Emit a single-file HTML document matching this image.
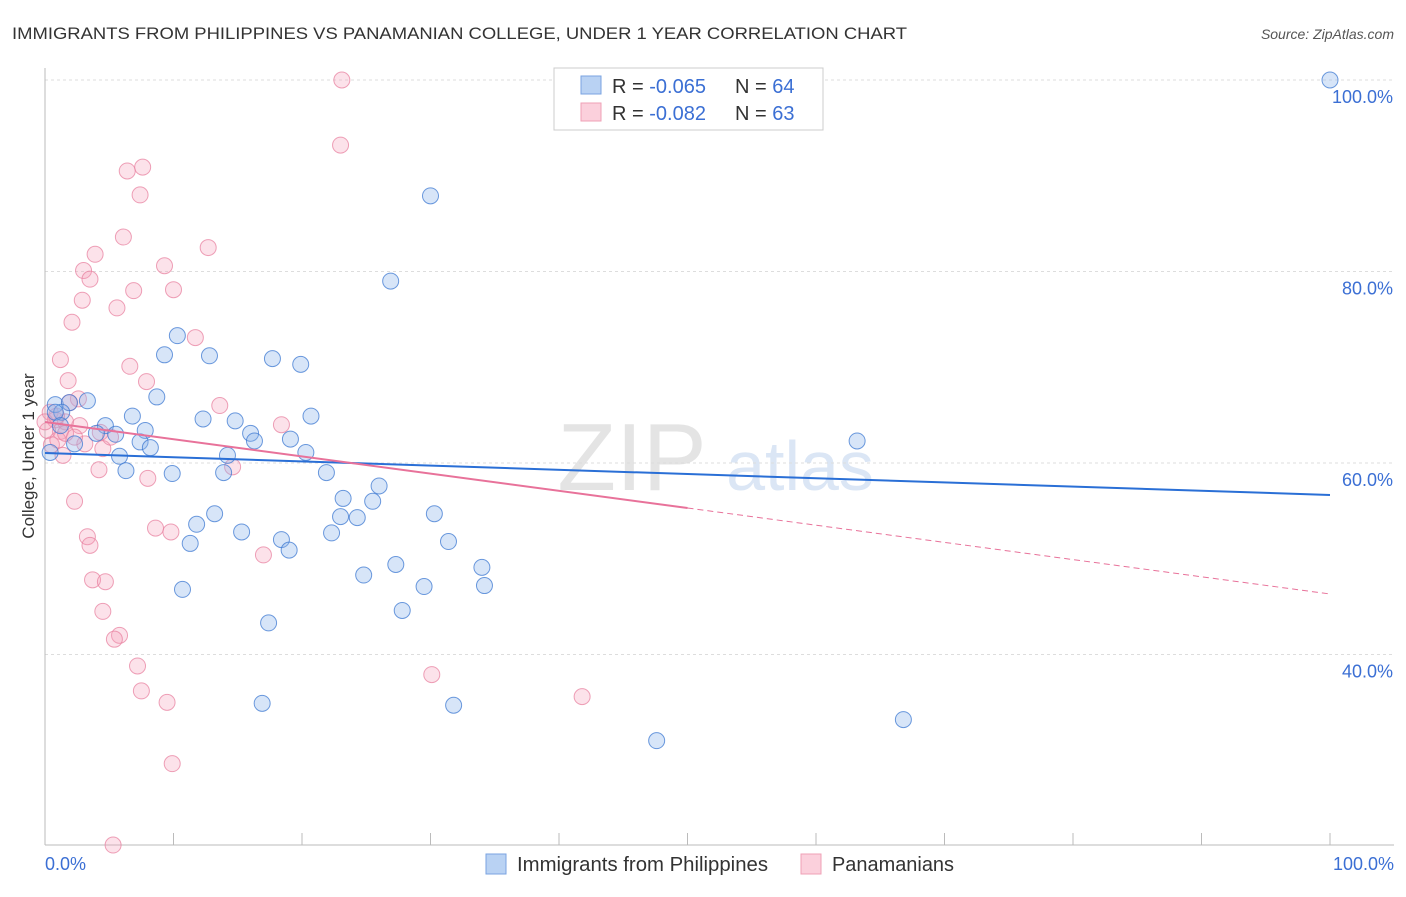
<!DOCTYPE html>
<html><head><meta charset="utf-8"><style>
body{margin:0;background:#fff;font-family:"Liberation Sans",sans-serif;}
svg text{font-family:"Liberation Sans",sans-serif;}
</style></head><body>
<svg id="chart" width="1406" height="892" viewBox="0 0 1406 892">
<text x="12" y="39" font-size="17" fill="#333" textLength="895" lengthAdjust="spacingAndGlyphs">IMMIGRANTS FROM PHILIPPINES VS PANAMANIAN COLLEGE, UNDER 1 YEAR CORRELATION CHART</text>
<text x="1394" y="39" font-size="14" fill="#555" font-style="italic" text-anchor="end">Source: ZipAtlas.com</text>
<text x="632" y="490" font-size="96" fill="#e4e4e4" font-family="Liberation Serif" text-anchor="middle">ZIP</text>
<text x="800" y="490" font-size="70" fill="#dbe6f5" text-anchor="middle">atlas</text>
<g id="grid"></g><g id="axes"></g><g id="marks"></g><g id="trends"></g>
<text transform="translate(34,456) rotate(-90)" font-size="17" fill="#333" text-anchor="middle">College, Under 1 year</text>
<text x="45" y="870" font-size="18" fill="#3b6fd4">0.0%</text>
<text x="1394" y="870" font-size="18" fill="#3b6fd4" text-anchor="end">100.0%</text>
<g>
<rect x="554" y="68" width="269" height="62" fill="#fff" stroke="#ccc"/>
<rect x="581" y="76" width="20" height="18" fill="#b9d2f3" stroke="#7aa3e0"/>
<rect x="581" y="103" width="20" height="18" fill="#fbd0dc" stroke="#efa0b6"/>
<text x="612" y="93" font-size="20" fill="#333">R = <tspan fill="#3b6fd4">-0.065</tspan></text>
<text x="735" y="93" font-size="20" fill="#333">N = <tspan fill="#3b6fd4">64</tspan></text>
<text x="612" y="120" font-size="20" fill="#333">R = <tspan fill="#3b6fd4">-0.082</tspan></text>
<text x="735" y="120" font-size="20" fill="#333">N = <tspan fill="#3b6fd4">63</tspan></text>
</g>
<g>
<rect x="486" y="854" width="20" height="20" fill="#b9d2f3" stroke="#7aa3e0"/>
<text x="517" y="871" font-size="20" fill="#333" textLength="251" lengthAdjust="spacingAndGlyphs">Immigrants from Philippines</text>
<rect x="801" y="854" width="20" height="20" fill="#fbd0dc" stroke="#efa0b6"/>
<text x="832" y="871" font-size="20" fill="#333" textLength="122" lengthAdjust="spacingAndGlyphs">Panamanians</text>
</g>
</svg>
<script>
const yTicks=[40,60,80,100];
const yTickLabels=["40.0%","60.0%","80.0%","100.0%"];
const xTicks=[0,10,20,30,40,50,60,70,80,90,100];
const blueX=[100,30,26.9,10.3,9.3,12.8,17.7,19.9,8.7,3.3,0.8,1.9,1.3,6.8,12.3,14.8,20.7,4.7,4.0,7.8,5.5,16.0,16.3,19.1,7.4,2.3,8.2,14.2,20.3,0.4,5.8,6.3,9.9,13.9,21.9,63.2,26.0,23.2,25.5,13.2,30.3,11.8,23.0,24.3,11.3,15.3,18.4,19.0,22.3,31.4,27.3,34.0,24.8,29.5,34.2,10.7,17.4,27.8,16.9,31.8,66.8,47.6,0.8,1.2];
const blueY=[100,87.9,79.0,73.3,71.3,71.2,70.9,70.3,66.9,66.5,66.1,66.3,65.3,64.9,64.6,64.4,64.9,63.9,63.1,63.4,63.0,63.1,62.3,62.5,62.2,62.0,61.6,60.8,61.1,61.1,60.7,59.2,58.9,59.0,59.0,62.3,57.6,56.3,56.0,54.7,54.7,53.6,54.4,54.3,51.6,52.8,52.0,50.9,52.7,51.8,49.4,49.1,48.3,47.1,47.2,46.8,43.3,44.6,34.9,34.7,33.2,31.0,65.3,63.9];
const pinkX=[23.1,23.0,7.6,6.4,7.4,6.1,3.9,12.7,9.3,3.0,3.5,6.9,10.0,2.9,5.6,2.1,11.7,1.2,6.6,7.9,1.8,2.6,1.9,13.6,18.4,0.4,0.8,1.6,1.2,4.3,4.5,3.1,1.4,0.2,14.6,8.0,4.2,2.3,8.6,9.8,3.3,3.5,17.0,3.7,4.7,4.5,5.8,5.4,7.2,7.5,9.5,30.1,41.8,9.9,5.3,0.5,1.0,2.7,5.1,0,0.9,1.6,2.3];
const pinkY=[100,93.2,90.9,90.5,88.0,83.6,81.8,82.5,80.6,80.1,79.2,78.0,78.1,77.0,76.2,74.7,73.1,70.8,70.1,68.5,68.6,66.7,66.3,66.0,64.0,65.3,64.5,64.3,63.3,63.2,61.5,62.0,60.8,63.4,59.6,58.4,59.3,56.0,53.2,52.8,52.3,51.4,50.4,47.8,47.6,44.5,42.0,41.6,38.8,36.2,35.0,37.9,35.6,28.6,20.1,61.9,62.4,63.9,62.7,64.3,64.9,63.1,62.7];
const blueTrend=[61.04,56.66];
const pinkTrend=[64.28,46.32];
const pinkSolidEnd=50;
const NS="http://www.w3.org/2000/svg";
const X=v=>45+v*12.85;
const Y=v=>80+(100-v)*9.575;
function mk(t,a,p){const e=document.createElementNS(NS,t);for(const k in a)e.setAttribute(k,a[k]);p.appendChild(e);return e;}
const grid=document.getElementById('grid'),axes=document.getElementById('axes'),marks=document.getElementById('marks'),tr=document.getElementById('trends');
yTicks.forEach((t,i)=>{
 const l=mk('line',{x1:45,x2:1394,y1:Y(t),y2:Y(t),stroke:'#ddd','stroke-dasharray':'3,3'},grid);
 
 
 const tx=mk('text',{x:1393,y:Y(t)+23,'font-size':18,fill:'#3b6fd4','text-anchor':'end'},grid);
 tx.textContent=yTickLabels[i];
 
 
});
const ax=mk('line',{x1:45,x2:45,y1:68,y2:845,stroke:'#bbb'},axes);


const bx=mk('line',{x1:45,x2:1394,y1:845,y2:845,stroke:'#bbb'},axes);


xTicks.forEach(t=>{
 const l=mk('line',{x1:X(t),x2:X(t),y1:833,y2:845,stroke:'#bbb'},axes);
 
 
});
pinkX.forEach((v,i)=>{
 const c=mk('circle',{cx:X(v),cy:Y(pinkY[i]),r:8,fill:'rgba(245,160,185,0.3)',stroke:'rgba(232,130,160,0.75)','stroke-width':1},marks);
 
 
});
blueX.forEach((v,i)=>{
 const c=mk('circle',{cx:X(v),cy:Y(blueY[i]),r:8,fill:'rgba(140,180,235,0.35)',stroke:'rgba(60,120,210,0.75)','stroke-width':1},marks);
 
 
});
const pAt=x=>pinkTrend[0]+(pinkTrend[1]-pinkTrend[0])*x/100;
const b=mk('line',{x1:X(0),y1:Y(blueTrend[0]),x2:X(100),y2:Y(blueTrend[1]),stroke:'#2a6fd6','stroke-width':2},tr);


const p1=mk('line',{x1:X(0),y1:Y(pinkTrend[0]),x2:X(pinkSolidEnd),y2:Y(pAt(pinkSolidEnd)),stroke:'#e8729a','stroke-width':2},tr);


const p2=mk('line',{x1:X(pinkSolidEnd),y1:Y(pAt(pinkSolidEnd)),x2:X(100),y2:Y(pinkTrend[1]),stroke:'#e8729a','stroke-width':1,'stroke-dasharray':'6,4'},tr);


</script>
</body></html>
